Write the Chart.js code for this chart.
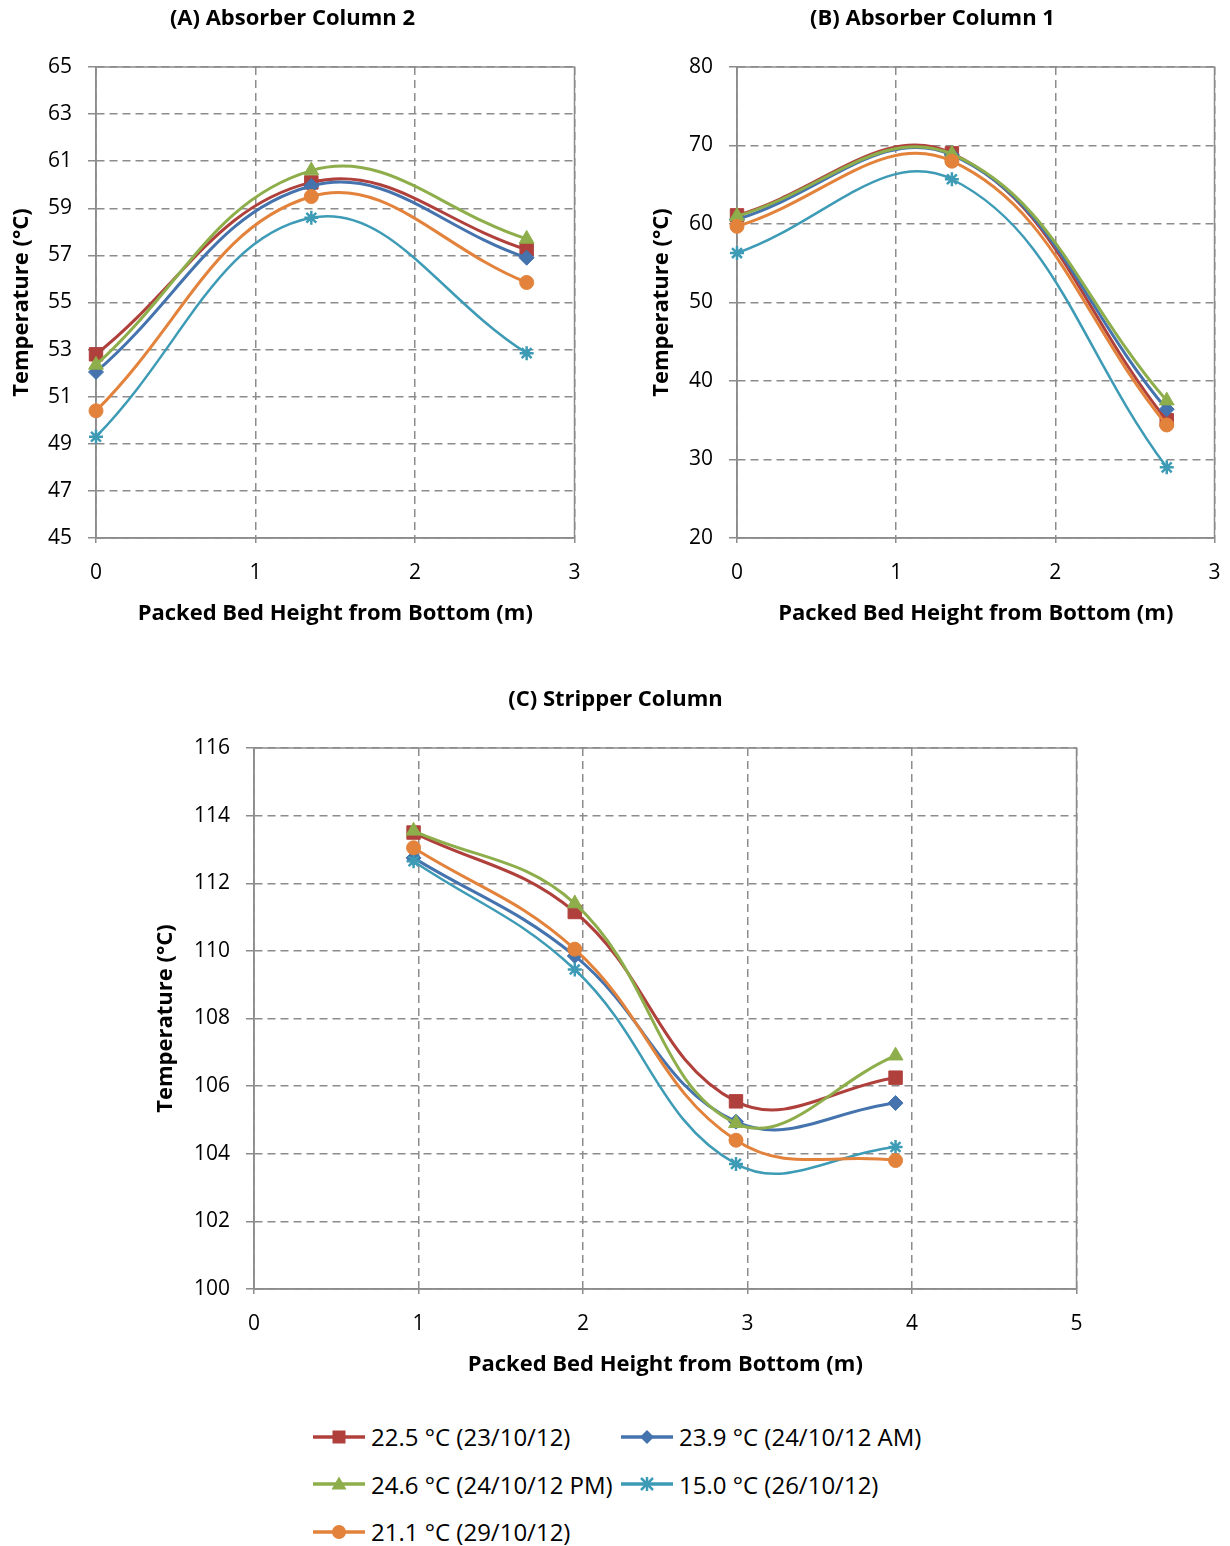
<!DOCTYPE html>
<html>
<head>
<meta charset="utf-8">
<script src="https://cdn.jsdelivr.net/npm/chart.js@4.4.0/dist/chart.umd.min.js"></script>
<style>
  body { margin: 0; background: #fff; width: 1230px; height: 1546px; position: relative; overflow: hidden; font-family: "Open Sans", Lato, sans-serif; }
  canvas { position: absolute; }
  #legend { position: absolute; left: 313px; top: 1413px; display: grid; grid-template-columns: 308px 330px; grid-auto-rows: 47.5px; }
  .item { display: flex; align-items: center; font-size: 24px; color: #000; white-space: nowrap; }
  .item svg { margin-right: 6px; }
</style>
</head>
<body>
<canvas id="chartA" width="585" height="638" style="left:0;top:0"></canvas>
<canvas id="chartB" width="585" height="638" style="left:640px;top:0"></canvas>
<canvas id="chartC" width="943" height="708" style="left:144px;top:681px"></canvas>
<div id="legend"></div>
<script>
// series (legend order)
const seriesNames = ['22.5 °C (23/10/12)', '23.9 °C (24/10/12 AM)', '24.6 °C (24/10/12 PM)', '15.0 °C (26/10/12)', '21.1 °C (29/10/12)'];
const seriesColors = ['#B0403C', '#4473AE', '#8DAE4A', '#3D9BB6', '#E2823B'];
const seriesMarkers = ['rect', 'rectRot', 'triangle', 'star', 'circle'];
const markerRadius = [9.5, 7.5, 8.5, 7, 7];

// (A) Absorber Column 2
const heightsA = [0, 1.35, 2.7];
const tempsA = [
  [52.8, 60.1, 57.25],
  [52.05, 59.95, 56.9],
  [52.35, 60.6, 57.7],
  [49.3, 58.6, 52.85],
  [50.4, 59.5, 55.85]
];

// (B) Absorber Column 1
const heightsB = [0, 1.35, 2.7];
const tempsB = [
  [61.1, 69.0, 35.0],
  [60.6, 68.8, 36.4],
  [61.0, 68.9, 37.5],
  [56.3, 65.7, 29.0],
  [59.7, 68.0, 34.4]
];

// (C) Stripper Column
const heightsC = [0.97, 1.95, 2.93, 3.9];
const tempsC = [
  [113.5, 111.15, 105.55, 106.25],
  [112.75, 109.85, 104.95, 105.5],
  [113.55, 111.4, 104.9, 106.9],
  [112.65, 109.45, 103.7, 104.2],
  [113.05, 110.05, 104.4, 103.8]
];

const FONT = '"Open Sans", Lato, sans-serif';
const GRID = '#8c8c8c';

// solid frame round the plot area (Excel draws it solid)
const frame = {
  id: 'frame',
  beforeDatasetsDraw(chart) {
    const a = chart.chartArea, c = chart.ctx;
    c.save();
    c.strokeStyle = GRID;
    c.lineWidth = 1.5;
    c.strokeRect(a.left, a.top, a.right - a.left, a.bottom - a.top);
    c.restore();
  }
};

function makeChart(id, title, xs, temps, xMax, yMin, yMax, yStep, yWidth) {
  const datasets = temps.map((vals, i) => ({
    label: seriesNames[i],
    data: xs.map((x, j) => ({x: x, y: vals[j]})),
    showLine: true,
    borderColor: seriesColors[i],
    backgroundColor: seriesColors[i],
    borderWidth: i == 3 ? 2.5 : 3,
    pointStyle: seriesMarkers[i],
    pointRadius: markerRadius[i],
    pointBorderWidth: i == 3 ? 2.5 : 1,
    pointBorderColor: seriesColors[i],
    tension: 0.4,
    clip: false,
    order: 5 - i
  }));
  return new Chart(document.getElementById(id), {
    type: 'scatter',
    data: {datasets: datasets},
    plugins: [frame],
    options: {
      responsive: false,
      animation: false,
      layout: {padding: 0},
      plugins: {
        legend: {display: false},
        tooltip: {enabled: false},
        title: {
          display: true, text: title, color: '#000',
          font: {family: FONT, size: 22, weight: 'bold'},
          padding: {top: 5.8, bottom: 34.8}
        }
      },
      scales: {
        x: {
          type: 'linear', min: 0, max: xMax,
          afterFit: s => { s.height = 100; s.paddingRight = 1; },
          ticks: {stepSize: 1, color: '#000', padding: 17, font: {family: FONT, size: 21}},
          grid: {color: GRID, lineWidth: 1.5, tickLength: 5, tickColor: GRID, tickBorderDash: []},
          border: {color: GRID, width: 1.5, dash: [8, 5]},
          title: {display: true, text: 'Packed Bed Height from Bottom (m)', color: '#000',
            font: {family: FONT, size: 22, weight: 'bold'}, padding: {top: 0, bottom: 11}}
        },
        y: {
          min: yMin, max: yMax,
          afterFit: s => { s.width = yWidth; },
          ticks: {stepSize: yStep, color: '#000', padding: 16, font: {family: FONT, size: 21}},
          grid: {color: GRID, lineWidth: 1.5, tickLength: 8, tickColor: GRID, tickBorderDash: []},
          border: {color: GRID, width: 1.5, dash: [8, 5]},
          title: {display: true, text: 'Temperature (°C)', color: '#000',
            font: {family: FONT, size: 22, weight: 'bold'}, padding: {top: 9, bottom: 0}}
        }
      }
    }
  });
}

makeChart('chartA', '(A) Absorber Column 2', heightsA, tempsA, 3, 45, 65, 2, 96);
makeChart('chartB', '(B) Absorber Column 1', heightsB, tempsB, 3, 20, 80, 10, 97);
makeChart('chartC', '(C) Stripper Column', heightsC, tempsC, 5, 100, 116, 2, 110);

// shared legend
function glyph(i) {
  const c = seriesColors[i];
  let m = '';
  if (i == 0) m = `<rect x="19.5" y="3.5" width="13" height="13" fill="${c}"/>`;
  if (i == 1) m = `<polygon points="26,3 33,10 26,17 19,10" fill="${c}"/>`;
  if (i == 2) m = `<polygon points="26,2.5 33.5,15.5 18.5,15.5" fill="${c}"/>`;
  if (i == 3) m = `<g stroke="${c}" stroke-width="2.5"><line x1="20" y1="4" x2="32" y2="16"/><line x1="32" y1="4" x2="20" y2="16"/><line x1="26" y1="3" x2="26" y2="17"/></g>`;
  if (i == 4) m = `<circle cx="26" cy="10" r="7" fill="${c}"/>`;
  return `<svg width="52" height="20"><line x1="0" y1="10" x2="52" y2="10" stroke="${c}" stroke-width="3.5"/>${m}</svg>`;
}
document.getElementById('legend').innerHTML = seriesNames
  .map((n, i) => `<div class="item">${glyph(i)}<span>${n}</span></div>`).join('');
</script>
</body>
</html>
